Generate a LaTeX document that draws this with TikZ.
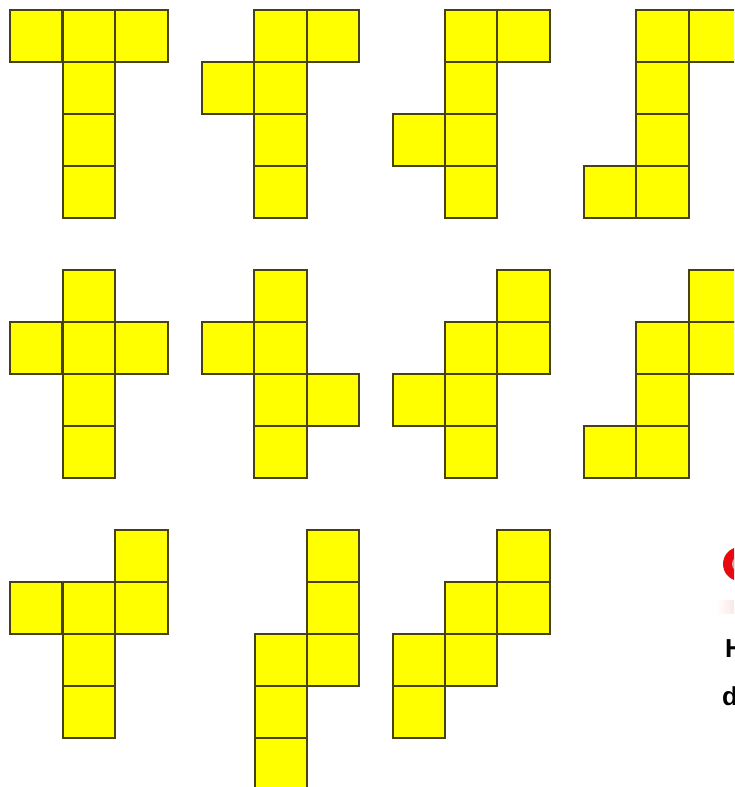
\documentclass[tikz,border=0pt]{standalone}
\usepackage{fontspec}
\setmainfont{Liberation Sans}
\definecolor{cellyellow}{RGB}{255,255,0}
\definecolor{celledge}{RGB}{72,66,18}
\definecolor{ringred}{RGB}{232,8,16}
\definecolor{ringgrey}{RGB}{196,176,176}
\definecolor{stripink}{RGB}{250,232,232}

\begin{document}
\begin{tikzpicture}[x=1pt, y=-1pt]
  \tikzset{
    cell/.style={draw=celledge, line width=2pt, fill=cellyellow, minimum size=52.4pt, inner sep=0pt, outer sep=0pt, anchor=north west},
    frag/.style={font=\bfseries\fontsize{26}{26}\selectfont, anchor=base west, inner sep=0pt}
  }
  \useasboundingbox (0,0) rectangle (734,787);
  \clip (0,0) rectangle (734,787);

  % Top row
  \foreach \c/\r [count=\i] in {0/0,1/0,2/0,1/1,1/2,1/3}
    \node[cell] (a\i) at ({10+52.6*\c},{10+52*\r}) {};
  \foreach \c/\r [count=\i] in {1/0,2/0,0/1,1/1,1/2,1/3}
    \node[cell] (b\i) at ({202+52.4*\c},{10+52*\r}) {};
  \foreach \c/\r [count=\i] in {1/0,2/0,1/1,0/2,1/2,1/3}
    \node[cell] (c\i) at ({392.5+52.4*\c},{10+52*\r}) {};
  \foreach \c/\r [count=\i] in {1/0,2/0,1/1,1/2,0/3,1/3}
    \node[cell] (d\i) at ({584+52.4*\c},{10+52*\r}) {};

  % Middle row
  \foreach \c/\r [count=\i] in {1/0,0/1,1/1,2/1,1/2,1/3}
    \node[cell] (e\i) at ({10+52.6*\c},{270+52*\r}) {};
  \foreach \c/\r [count=\i] in {1/0,0/1,1/1,1/2,2/2,1/3}
    \node[cell] (f\i) at ({202+52.4*\c},{270+52*\r}) {};
  \foreach \c/\r [count=\i] in {2/0,1/1,2/1,0/2,1/2,1/3}
    \node[cell] (g\i) at ({392.5+52.4*\c},{270+52*\r}) {};
  \foreach \c/\r [count=\i] in {2/0,1/1,2/1,1/2,0/3,1/3}
    \node[cell] (h\i) at ({584+52.4*\c},{270+52*\r}) {};

  % Bottom row
  \foreach \c/\r [count=\i] in {2/0,0/1,1/1,2/1,1/2,1/3}
    \node[cell] (j\i) at ({10+52.6*\c},{530+52*\r}) {};
  \foreach \c/\r [count=\i] in {1/0,1/1,0/2,1/2,0/3,0/4}
    \node[cell] (k\i) at ({254.5+52.4*\c},{530+52*\r}) {};
  \foreach \c/\r [count=\i] in {2/0,1/1,2/1,0/2,1/2,0/3}
    \node[cell] (l\i) at ({392.5+52.4*\c},{530+52*\r}) {};

  % Cut-off pieces at the right edge
  \fill[ringred] (740,564) circle (17);
  \fill[ringgrey] (740,564) circle (8);
  \shade[left color=white, right color=stripink] (716,600) rectangle (734,613);
  \node[frag] (hfrag) at (725,657) {H};
  \node[frag] (dfrag) at (722,705) {d};
\end{tikzpicture}
\end{document}
